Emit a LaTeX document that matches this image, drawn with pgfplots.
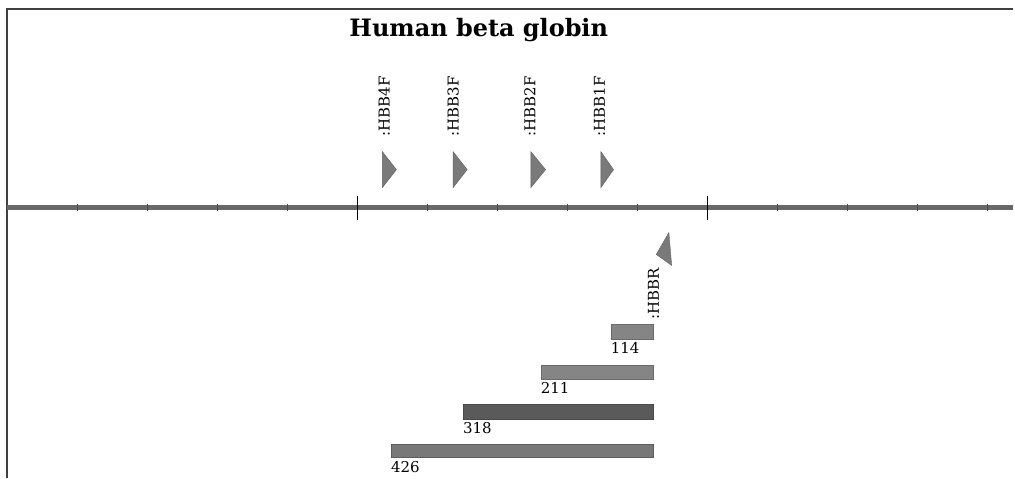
\documentclass[border=0pt]{standalone}
\usepackage{fontspec}
\setmainfont{DejaVu Serif}
\usepackage{pgfplots}
\pgfplotsset{compat=1.18}
\definecolor{seqline}{HTML}{686868}
\definecolor{primer}{HTML}{7A7A7A}
\definecolor{barA}{HTML}{858585}
\definecolor{barB}{HTML}{5A5A5A}
\definecolor{frame}{HTML}{404040}
\begin{document}
\begin{tikzpicture}
\begin{axis}[
  hide axis, scale only axis, width=1015pt, height=479pt,
  xmin=-510, xmax=936, ymin=0, ymax=479, clip=false]
\path (rel axis cs:0,0) (rel axis cs:1,1);
% frame (top and left)
\addplot[frame, line width=1.6pt] coordinates {(-500,0) (-500,470) (936,470)};
% sequence line
\addplot[seqline, line width=4.5pt] coordinates {(-500,271) (936,271)};
% minor ticks
\addplot[only marks, mark=|, mark size=3.5pt, mark options={line width=1pt, black!70}] coordinates {
(-400,271) (-300,271) (-200,271) (-100,271) (100,271) (200,271) (300,271) (400,271)
(600,271) (700,271) (800,271) (900,271)};
% major ticks
\addplot[only marks, mark=|, mark size=12pt, mark options={line width=1pt, black}] coordinates {(0,271) (500,271)};
% forward primers
\addplot[fill=primer, draw=primer!80!black] coordinates {(36,327) (56,309) (36,291)} --cycle;
\addplot[fill=primer, draw=primer!80!black] coordinates {(137,327) (157,309) (137,291)} --cycle;
\addplot[fill=primer, draw=primer!80!black] coordinates {(248,327) (269,309) (248,291)} --cycle;
\addplot[fill=primer, draw=primer!80!black] coordinates {(348,327) (366,309) (348,291)} --cycle;
% reverse primer
\addplot[fill=primer, draw=primer!80!black] coordinates {(445,246) (427,224) (449,213)} --cycle;
% amplicon bars
\addplot[fill=barA, draw=barA!80!black] coordinates {(362,154) (422,154) (422,139) (362,139)} --cycle;
\addplot[fill=barA, draw=barA!80!black] coordinates {(262,113) (422,113) (422,99) (262,99)} --cycle;
\addplot[fill=barB, draw=barB!80!black] coordinates {(151,74) (422,74) (422,59) (151,59)} --cycle;
\addplot[fill=barA!90!black, draw=barA!70!black] coordinates {(48,34) (422,34) (422,21) (48,21)} --cycle;
% labels
\node[anchor=base, font=\bfseries\fontsize{24}{26}\selectfont] at (axis cs:173.5,442) {Human beta globin};
\node[rotate=90, anchor=west, inner sep=0pt, font=\fontsize{15}{17}\selectfont] at (axis cs:38.5,342) {:HBB4F};
\node[rotate=90, anchor=west, inner sep=0pt, font=\fontsize{15}{17}\selectfont] at (axis cs:137,342) {:HBB3F};
\node[rotate=90, anchor=west, inner sep=0pt, font=\fontsize{15}{17}\selectfont] at (axis cs:246.5,342) {:HBB2F};
\node[rotate=90, anchor=west, inner sep=0pt, font=\fontsize{15}{17}\selectfont] at (axis cs:346,342) {:HBB1F};
\node[rotate=90, anchor=west, inner sep=0pt, font=\fontsize{15}{17}\selectfont] at (axis cs:423,159) {:HBBR};
\node[anchor=north west, inner sep=0pt, font=\fontsize{15}{17}\selectfont] at (axis cs:362,136) {114};
\node[anchor=north west, inner sep=0pt, font=\fontsize{15}{17}\selectfont] at (axis cs:262,96) {211};
\node[anchor=north west, inner sep=0pt, font=\fontsize{15}{17}\selectfont] at (axis cs:151,56) {318};
\node[anchor=north west, inner sep=0pt, font=\fontsize{15}{17}\selectfont] at (axis cs:48,17) {426};
\end{axis}
\end{tikzpicture}
\end{document}
